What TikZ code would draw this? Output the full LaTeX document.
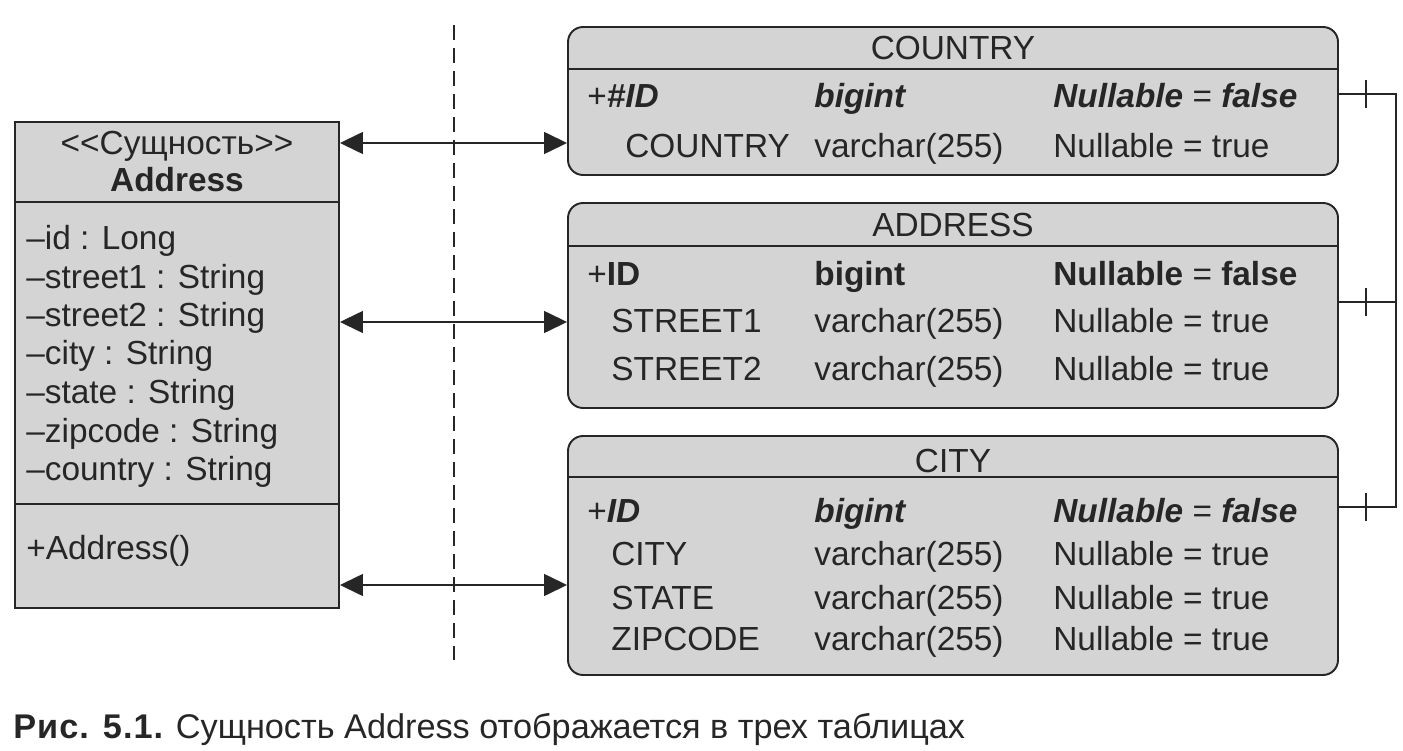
\documentclass[tikz,border=0pt]{standalone}
\usepackage{fontspec}
\setmainfont{Liberation Sans}
\usetikzlibrary{arrows.meta}
\definecolor{boxgray}{HTML}{D4D4D4}
\definecolor{ink}{HTML}{262626}
\tikzset{
  classbox/.style={draw=ink,fill=boxgray,line width=1.1pt,inner sep=0pt},
  tablebox/.style={classbox,rounded corners=0.3cm,minimum width=15.4cm},
  cell/.style={anchor=west,inner sep=0pt,text height=13.7pt,text depth=0pt,
    font=\fontsize{19}{22.8}\selectfont},
  title/.style={cell,anchor=center},
  link/.style={<->,line width=0.85pt,draw=ink},
  joint/.style={line width=0.85pt,draw=ink},
}
\newcommand{\bi}[1]{\textbf{\textit{#1}}}
\begin{document}
\begin{tikzpicture}[>={Triangle[length=0.46cm,width=0.44cm]},text=ink]
\useasboundingbox (0,0) rectangle (28.06,15);
% ---------- класс Address ----------
\node[classbox,minimum width=6.48cm,minimum height=9.72cm] (cls) at (3.54,7.70) {};
\draw[classbox] (0.30,10.96) -- (6.78,10.96);
\draw[classbox] (0.30,4.92) -- (6.78,4.92);
\node[title] (clsStereo) at (3.54,12.16) {{<}{<}Сущность{>}{>}};
\node[title] (clsName) at (3.54,11.42) {\textbf{Address}};
\foreach \t/\y [count=\i] in {id : Long/10.26,street1 : String/9.48,street2 : String/8.72,
    city : String/7.96,state : String/7.18,zipcode : String/6.40,country : String/5.64}{
  \node[cell] (clsAttr\i) at (0.52,\y) {–\t};
}
\node[cell] (clsOp) at (0.52,4.06) {+Address()};
% разделитель
\draw[ink,line width=0.7pt,dash pattern=on 0.3cm off 0.16cm] (9.08,14.5) -- (9.08,1.8);
% ---------- COUNTRY ----------
\node[tablebox,minimum height=2.96cm] (country) at (19.06,12.98) {};
\draw[classbox] (11.36,13.62) -- (26.76,13.62);
\node[title] (countryT) at (19.06,14.06) {COUNTRY};
\node[cell] (countryK) at (11.74,13.10) {+\bi{\#ID}};
\node[cell] (countryKt) at (16.28,13.10) {\bi{bigint}};
\node[cell] (countryKn) at (21.06,13.10) {\bi{Nullable} = \bi{false}};
\node[cell] (countryR1) at (12.50,12.10) {COUNTRY};
\node[cell] (countryR1t) at (16.28,12.10) {varchar(255)};
\node[cell] (countryR1n) at (21.06,12.10) {Nullable = true};
% ---------- ADDRESS ----------
\node[tablebox,minimum height=4.10cm] (address) at (19.06,8.89) {};
\draw[classbox] (11.36,10.08) -- (26.76,10.08);
\node[title] (addressT) at (19.06,10.52) {ADDRESS};
\node[cell] (addressK) at (11.74,9.54) {+\textbf{ID}};
\node[cell] (addressKt) at (16.28,9.54) {\textbf{bigint}};
\node[cell] (addressKn) at (21.06,9.54) {\textbf{Nullable} = \textbf{false}};
\foreach \n/\y [count=\i] in {STREET1/8.60,STREET2/7.64}{
  \node[cell] (addressR\i) at (12.22,\y) {\n};
  \node[cell] (addressR\i t) at (16.28,\y) {varchar(255)};
  \node[cell] (addressR\i n) at (21.06,\y) {Nullable = true};
}
% ---------- CITY ----------
\node[tablebox,minimum height=4.78cm] (city) at (19.06,3.89) {};
\draw[classbox] (11.36,5.46) -- (26.76,5.46);
\node[title] (cityT) at (19.06,5.80) {CITY};
\node[cell] (cityK) at (11.74,4.80) {+\bi{ID}};
\node[cell] (cityKt) at (16.28,4.80) {\bi{bigint}};
\node[cell] (cityKn) at (21.06,4.80) {\bi{Nullable} = \bi{false}};
\foreach \n/\y [count=\i] in {CITY/3.94,STATE/3.06,ZIPCODE/2.24}{
  \node[cell] (cityR\i) at (12.22,\y) {\n};
  \node[cell] (cityR\i t) at (16.28,\y) {varchar(255)};
  \node[cell] (cityR\i n) at (21.06,\y) {Nullable = true};
}
% отображение класс -> таблицы
\draw[link] (cls.east |- 0,12.14) -- (country.west |- 0,12.14);
\draw[link] (cls.east |- 0,8.56) -- (address.west |- 0,8.56);
\draw[link] (cls.east |- 0,3.30) -- (city.west |- 0,3.30);
% связи между таблицами
\coordinate (jTop) at (27.92,13.12);
\coordinate (jMid) at (27.92,8.96);
\coordinate (jBot) at (27.92,4.86);
\draw[joint] (country.east |- jTop) -- (jTop) -- (jBot) -- (city.east |- jBot);
\draw[joint] (address.east |- jMid) -- (jMid);
\foreach \y in {13.12,8.96,4.86}{
  \draw[joint] (27.32,\y) ++(0,-0.28) -- ++(0,0.56);
}
% подпись
\node[anchor=base west,inner sep=0pt,font=\fontsize{19.5}{23}\selectfont] (caption) at (0.26,0.24)
  {{\bfseries\addfontfeatures{LetterSpace=3}Рис. 5.1.} Сущность Address отображается в трех таблицах};
\end{tikzpicture}
\end{document}
